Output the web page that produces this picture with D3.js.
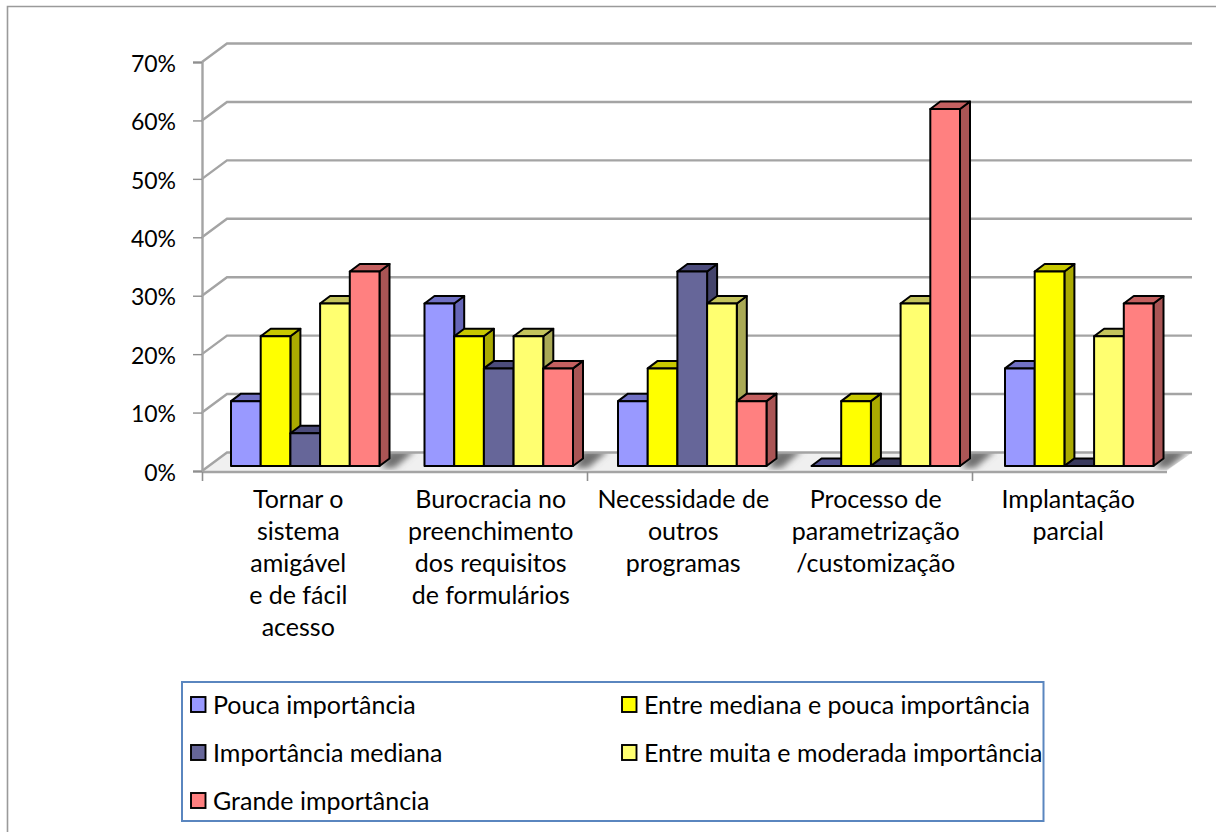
<!DOCTYPE html>
<html lang="pt">
<head>
<meta charset="utf-8">
<script src="https://cdn.jsdelivr.net/npm/d3@7/dist/d3.min.js"></script>
<style>
  html, body { margin: 0; padding: 0; background: #fff; }
  svg { display: block; }
  text { font-family: Lato, "Open Sans", sans-serif; fill: #000; }
</style>
</head>
<body>
<svg id="chart" width="1216" height="832"></svg>
<script>
// Survey answers per category, in percent
const categories = [
  ["Tornar o", "sistema", "amigável", "e de fácil", "acesso"],
  ["Burocracia no", "preenchimento", "dos requisitos", "de formulários"],
  ["Necessidade de", "outros", "programas"],
  ["Processo de", "parametrização", "/customização"],
  ["Implantação", "parcial"]
];
const seriesNames = [
  "Pouca importância",
  "Entre mediana e pouca importância",
  "Importância mediana",
  "Entre muita e moderada importância",
  "Grande importância"
];
const poucaImportancia = [11.1, 27.8, 11.1, 0, 16.7];
const entreMedianaPouca = [22.2, 22.2, 16.7, 11.1, 33.3];
const importanciaMediana = [5.6, 16.7, 33.3, 0, 0];
const entreMuitaModerada = [27.8, 22.2, 27.8, 27.8, 22.2];
const grandeImportancia = [33.3, 16.7, 11.1, 61.1, 27.8];
const seriesValues = [poucaImportancia, entreMedianaPouca, importanciaMediana, entreMuitaModerada, grandeImportancia];
const yTicks = [0, 10, 20, 30, 40, 50, 60, 70];

const frontColors = ["#9999ff", "#ffff00", "#666699", "#ffff70", "#ff8080"];
const topColors = ["#7070c4", "#c8c800", "#4c4c7c", "#c4c45c", "#c46060"];
const sideColors = ["#6666b8", "#aaaa00", "#44446c", "#aaaa55", "#aa5555"];

const svg = d3.select("#chart");
const defs = svg.append("defs");
defs.append("filter").attr("id", "soft")
  .attr("filterUnits", "userSpaceOnUse")
  .attr("x", 190).attr("y", 430).attr("width", 1020).attr("height", 60)
  .append("feGaussianBlur").attr("stdDeviation", 3);
defs.append("clipPath").attr("id", "floorClip").append("polygon")
  .attr("points", "202,470 227,453 1192,453 1167,470");

// Chart area outline (top and left edges only)
svg.append("path").attr("d", "M7.5,832V6.5H1216").attr("fill", "none")
  .attr("stroke", "#9a9a9a").attr("stroke-width", 1.6);

// Depth of the 3D box and of each bar
const wallDx = 25, wallDy = -18.5;
const barDx = 10, barDy = -7.5;
const barInsetDy = -5;
const gridColor = "#a4a4a4";

const y = d3.scaleLinear().domain([0, 70]).range([471, 62]);
const axisX = d3.scaleLinear().domain([0, 5]).range([202, 1164.5]);
const labelBand = d3.scaleBand().domain(d3.range(5)).range([202, 1164.5]);
const groupBand = d3.scaleBand().domain(d3.range(5)).range([231, 231 + 5 * 193.5]);
const barBand = d3.scaleBand().domain(d3.range(5)).range([0, 148.5]);

// Floor with the soft shadow thrown by each group
svg.append("polygon").attr("points", "202,471 227,452.5 1192,452.5 1167,471").attr("fill", "#f0f0f0");
const shadows = svg.append("g").attr("clip-path", "url(#floorClip)").append("g").attr("filter", "url(#soft)");
d3.range(5).forEach(i => {
  const x1 = groupBand(i) + 148.5, base = y(0) + barInsetDy;
  shadows.append("polygon")
    .attr("points", [[x1 + 2, base + 2], [x1 + 15, base + 2], [x1 + 36, base - 16], [x1 + 10, base - 16]].join(" "))
    .attr("fill", "#707070");
});

// Gridlines on the side and back walls
const grid = svg.append("g").attr("fill", "none").attr("stroke", gridColor).attr("stroke-width", 2.4);
grid.selectAll("path").data(yTicks).join("path")
  .attr("d", d => `M${202},${y(d)}L${202 + wallDx},${y(d) + wallDy}H1192`);
svg.append("line").attr("x1", 202).attr("x2", 1167).attr("y1", 472).attr("y2", 472)
  .attr("stroke", gridColor).attr("stroke-width", 2.6);

// Value axis
const yAxis = svg.append("g").attr("transform", "translate(202,0)")
  .call(d3.axisLeft(y).tickValues(yTicks).tickSize(9).tickPadding(17).tickFormat(d => d + "%"));
yAxis.select(".domain").attr("stroke", gridColor).attr("stroke-width", 2.4);
yAxis.selectAll(".tick line").attr("stroke", "#8f8f8f").attr("stroke-width", 1.4);
yAxis.selectAll(".tick text").attr("font-size", 23).attr("font-family", "Lato").attr("dy", "0.4em");

// Category axis: a tick on every other boundary
const xAxis = svg.append("g").attr("transform", "translate(0,472)")
  .call(d3.axisBottom(axisX).tickValues([0, 2, 4]).tickSize(9).tickFormat(""));
xAxis.select(".domain").remove();
xAxis.selectAll(".tick line").attr("stroke", "#8f8f8f").attr("stroke-width", 1.6);

// Bars: side, top, then front face, drawn left to right within each group
const barsLayer = svg.append("g").attr("stroke", "#000").attr("stroke-width", 2).attr("stroke-linejoin", "round");
categories.forEach((_, c) => {
  seriesNames.forEach((_, s) => {
    const v = seriesValues[s][c];
    const x0 = groupBand(c) + barBand(s), x1 = x0 + barBand.bandwidth();
    const yb = y(0) + barInsetDy, yt = y(v) + barInsetDy;
    const g = barsLayer.append("g");
    if (v > 0) {
      g.append("polygon").attr("fill", sideColors[s])
        .attr("points", [[x1, yt], [x1 + barDx, yt + barDy], [x1 + barDx, yb + barDy], [x1, yb]].join(" "));
    }
    g.append("polygon")
      .attr("fill", v > 0 ? topColors[s] : d3.color(topColors[s]).darker(0.8))
      .attr("points", [[x0, yt], [x0 + barDx, yt + barDy], [x1 + barDx, yt + barDy], [x1, yt]].join(" "));
    if (v > 0) {
      g.append("rect").attr("fill", frontColors[s])
        .attr("x", x0).attr("y", yt).attr("width", x1 - x0).attr("height", yb - yt);
    }
  });
});

// Category labels
const labelLine = 32;
const labelSize = 25;
const labels = svg.append("g").attr("font-size", labelSize).attr("text-anchor", "middle");
categories.forEach((lines, c) => {
  lines.forEach((t, i) => {
    labels.append("text")
      .attr("x", labelBand(c) + labelBand.bandwidth() / 2)
      .attr("y", 499 + i * labelLine)
      .attr("dy", "0.36em")
      .text(t);
  });
});

// Legend
svg.append("rect").attr("x", 182).attr("y", 682).attr("width", 861.5).attr("height", 139)
  .attr("fill", "#fff").attr("stroke", "#5a86bf").attr("stroke-width", 2);
const legendCols = [191, 622];
const legendRows = [705, 753, 801];
seriesNames.forEach((name, i) => {
  const lx = legendCols[i % 2], ly = legendRows[Math.floor(i / 2)];
  svg.append("rect").attr("x", lx).attr("y", ly - 8).attr("width", 14.5).attr("height", 15)
    .attr("fill", frontColors[i]).attr("stroke", "#000").attr("stroke-width", 1.9);
  svg.append("text").attr("x", lx + 22).attr("y", ly).attr("dy", "0.36em")
    .attr("font-size", labelSize).text(name);
});
</script>
</body>
</html>
